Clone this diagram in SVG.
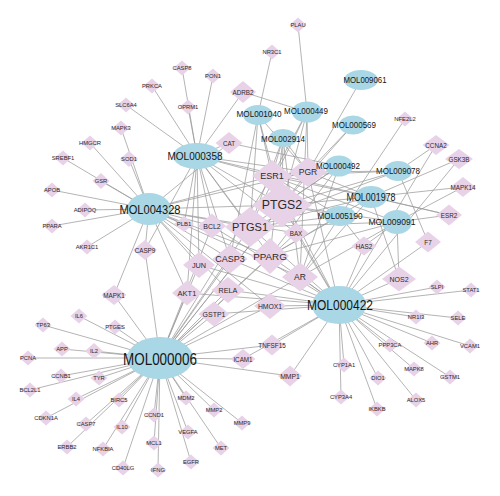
<svg xmlns="http://www.w3.org/2000/svg" xmlns:xlink="http://www.w3.org/1999/xlink" width="500" height="496" viewBox="0 0 500 496">
<style>
.t{fill:#E8D2E8}
.c{fill:#A9D7E5}
text{font-family:"Liberation Sans",Arial,sans-serif;text-anchor:middle;dominant-baseline:central;fill:#2a2a2a}
.s{font-size:5.8px}
.m{font-size:6.3px}
.k{fill:#151515}
</style>
<defs>
<polygon id="dl" class="t" points="0,-7.5 8.5,0 0,7.5 -8.5,0"/>
</defs>
<rect width="500" height="496" fill="#fff"/>
<g id="edges" stroke="#9b9b9b" stroke-width="0.75" fill="none">
<!-- MOL000358 -->
<line x1="197" y1="156" x2="182" y2="68"/>
<line x1="197" y1="156" x2="213" y2="76"/>
<line x1="197" y1="156" x2="188" y2="107"/>
<line x1="197" y1="156" x2="152" y2="86"/>
<line x1="197" y1="156" x2="126" y2="105"/>
<line x1="197" y1="156" x2="243" y2="92"/>
<line x1="197" y1="156" x2="229" y2="143"/>
<line x1="197" y1="156" x2="308" y2="172"/>
<line x1="197" y1="156" x2="272" y2="176"/>
<line x1="197" y1="156" x2="282" y2="205"/>
<line x1="197" y1="156" x2="250" y2="227"/>
<line x1="197" y1="156" x2="212" y2="226"/>
<line x1="197" y1="156" x2="296" y2="233"/>
<line x1="197" y1="156" x2="270" y2="256"/>
<line x1="197" y1="156" x2="230" y2="259"/>
<line x1="197" y1="156" x2="199" y2="265"/>
<line x1="197" y1="156" x2="187" y2="293"/>
<line x1="197" y1="156" x2="145" y2="250"/>
<line x1="197" y1="156" x2="449" y2="215"/>
<line x1="197" y1="156" x2="184" y2="224"/>
<!-- MOL004328 -->
<line x1="149" y1="209" x2="121" y2="128"/>
<line x1="149" y1="209" x2="129" y2="159"/>
<line x1="149" y1="209" x2="90" y2="143"/>
<line x1="149" y1="209" x2="63" y2="158"/>
<line x1="149" y1="209" x2="101" y2="181"/>
<line x1="149" y1="209" x2="52" y2="190"/>
<line x1="149" y1="209" x2="85" y2="210"/>
<line x1="149" y1="209" x2="52" y2="226"/>
<line x1="149" y1="209" x2="87" y2="247"/>
<line x1="149" y1="209" x2="145" y2="250"/>
<line x1="149" y1="209" x2="114" y2="295"/>
<line x1="149" y1="209" x2="184" y2="224"/>
<line x1="149" y1="209" x2="212" y2="226"/>
<line x1="149" y1="209" x2="229" y2="143"/>
<line x1="149" y1="209" x2="272" y2="176"/>
<line x1="149" y1="209" x2="282" y2="205"/>
<line x1="149" y1="209" x2="250" y2="227"/>
<line x1="149" y1="209" x2="308" y2="172"/>
<line x1="149" y1="209" x2="296" y2="233"/>
<line x1="149" y1="209" x2="270" y2="256"/>
<line x1="149" y1="209" x2="230" y2="259"/>
<line x1="149" y1="209" x2="199" y2="265"/>
<line x1="149" y1="209" x2="187" y2="293"/>
<line x1="149" y1="209" x2="228" y2="290"/>
<line x1="149" y1="209" x2="300" y2="277"/>
<line x1="149" y1="209" x2="270" y2="306"/>
<!-- MOL000006 -->
<line x1="160" y1="358" x2="79" y2="316"/>
<line x1="160" y1="358" x2="43" y2="325"/>
<line x1="160" y1="358" x2="115" y2="327"/>
<line x1="160" y1="358" x2="62" y2="349"/>
<line x1="160" y1="358" x2="94" y2="351"/>
<line x1="160" y1="358" x2="28" y2="358"/>
<line x1="160" y1="358" x2="61" y2="376"/>
<line x1="160" y1="358" x2="99" y2="378"/>
<line x1="160" y1="358" x2="30" y2="390"/>
<line x1="160" y1="358" x2="76" y2="399"/>
<line x1="160" y1="358" x2="119" y2="400"/>
<line x1="160" y1="358" x2="46" y2="418"/>
<line x1="160" y1="358" x2="86" y2="424"/>
<line x1="160" y1="358" x2="122" y2="427"/>
<line x1="160" y1="358" x2="154" y2="415"/>
<line x1="160" y1="358" x2="154" y2="443"/>
<line x1="160" y1="358" x2="67" y2="447"/>
<line x1="160" y1="358" x2="103" y2="449"/>
<line x1="160" y1="358" x2="123" y2="468"/>
<line x1="160" y1="358" x2="158" y2="470"/>
<line x1="160" y1="358" x2="186" y2="398"/>
<line x1="160" y1="358" x2="214" y2="410"/>
<line x1="160" y1="358" x2="242" y2="423"/>
<line x1="160" y1="358" x2="188" y2="432"/>
<line x1="160" y1="358" x2="221" y2="448"/>
<line x1="160" y1="358" x2="191" y2="462"/>
<line x1="160" y1="358" x2="145" y2="250"/>
<line x1="160" y1="358" x2="114" y2="295"/>
<line x1="160" y1="358" x2="243" y2="359"/>
<line x1="160" y1="358" x2="272" y2="345"/>
<line x1="160" y1="358" x2="290" y2="376"/>
<line x1="160" y1="358" x2="250" y2="227"/>
<line x1="160" y1="358" x2="282" y2="205"/>
<line x1="160" y1="358" x2="270" y2="256"/>
<line x1="160" y1="358" x2="300" y2="277"/>
<line x1="160" y1="358" x2="230" y2="259"/>
<line x1="160" y1="358" x2="199" y2="265"/>
<line x1="160" y1="358" x2="187" y2="293"/>
<line x1="160" y1="358" x2="228" y2="290"/>
<line x1="160" y1="358" x2="214" y2="314"/>
<line x1="160" y1="358" x2="270" y2="306"/>
<line x1="160" y1="358" x2="212" y2="226"/>
<line x1="160" y1="358" x2="296" y2="233"/>
<line x1="160" y1="358" x2="272" y2="176"/>
<line x1="160" y1="358" x2="308" y2="172"/>
<!-- MOL000422 -->
<line x1="339" y1="305" x2="437" y2="287"/>
<line x1="339" y1="305" x2="471" y2="290"/>
<line x1="339" y1="305" x2="416" y2="317"/>
<line x1="339" y1="305" x2="458" y2="318"/>
<line x1="339" y1="305" x2="390" y2="345"/>
<line x1="339" y1="305" x2="432" y2="343"/>
<line x1="339" y1="305" x2="470" y2="346"/>
<line x1="339" y1="305" x2="344" y2="365"/>
<line x1="339" y1="305" x2="378" y2="378"/>
<line x1="339" y1="305" x2="414" y2="369"/>
<line x1="339" y1="305" x2="450" y2="377"/>
<line x1="339" y1="305" x2="341" y2="397"/>
<line x1="339" y1="305" x2="416" y2="400"/>
<line x1="339" y1="305" x2="377" y2="409"/>
<line x1="339" y1="305" x2="399" y2="279"/>
<line x1="339" y1="305" x2="428" y2="242"/>
<line x1="339" y1="305" x2="364" y2="246"/>
<line x1="339" y1="305" x2="436" y2="145"/>
<line x1="339" y1="305" x2="459" y2="159"/>
<line x1="339" y1="305" x2="243" y2="359"/>
<line x1="339" y1="305" x2="272" y2="345"/>
<line x1="339" y1="305" x2="290" y2="376"/>
<line x1="339" y1="305" x2="250" y2="227"/>
<line x1="339" y1="305" x2="282" y2="205"/>
<line x1="339" y1="305" x2="308" y2="172"/>
<line x1="339" y1="305" x2="300" y2="277"/>
<line x1="339" y1="305" x2="270" y2="256"/>
<line x1="339" y1="305" x2="230" y2="259"/>
<line x1="339" y1="305" x2="187" y2="293"/>
<line x1="339" y1="305" x2="228" y2="290"/>
<line x1="339" y1="305" x2="214" y2="314"/>
<line x1="339" y1="305" x2="270" y2="306"/>
<line x1="339" y1="305" x2="296" y2="233"/>
<line x1="339" y1="305" x2="212" y2="226"/>
<line x1="339" y1="305" x2="199" y2="265"/>
<line x1="339" y1="305" x2="272" y2="176"/>
<!-- MOL000449 -->
<line x1="307" y1="112" x2="298" y2="25"/>
<line x1="307" y1="112" x2="243" y2="92"/>
<line x1="307" y1="112" x2="308" y2="172"/>
<line x1="307" y1="112" x2="250" y2="227"/>
<line x1="307" y1="112" x2="282" y2="205"/>
<line x1="307" y1="112" x2="272" y2="176"/>
<line x1="307" y1="112" x2="300" y2="277"/>
<!-- MOL001040 -->
<line x1="258" y1="115" x2="272" y2="52"/>
<line x1="258" y1="115" x2="250" y2="227"/>
<line x1="258" y1="115" x2="282" y2="205"/>
<line x1="258" y1="115" x2="272" y2="176"/>
<line x1="258" y1="115" x2="308" y2="172"/>
<line x1="258" y1="115" x2="230" y2="259"/>
<!-- MOL002914 -->
<line x1="283" y1="138" x2="250" y2="227"/>
<line x1="283" y1="138" x2="282" y2="205"/>
<line x1="283" y1="138" x2="272" y2="176"/>
<line x1="283" y1="138" x2="308" y2="172"/>
<line x1="283" y1="138" x2="270" y2="256"/>
<line x1="283" y1="138" x2="300" y2="277"/>
<!-- MOL000569, MOL009061 -->
<line x1="353" y1="125" x2="308" y2="172"/>
<line x1="353" y1="125" x2="282" y2="205"/>
<line x1="361" y1="80" x2="308" y2="172"/>
<!-- MOL000492 -->
<line x1="339" y1="166" x2="229" y2="143"/>
<line x1="339" y1="166" x2="282" y2="205"/>
<line x1="339" y1="166" x2="250" y2="227"/>
<line x1="339" y1="166" x2="272" y2="176"/>
<line x1="339" y1="166" x2="308" y2="172"/>
<line x1="339" y1="166" x2="300" y2="277"/>
<line x1="339" y1="166" x2="270" y2="256"/>
<!-- MOL009078 -->
<line x1="398" y1="171" x2="436" y2="145"/>
<line x1="398" y1="171" x2="428" y2="242"/>
<line x1="398" y1="171" x2="282" y2="205"/>
<line x1="398" y1="171" x2="250" y2="227"/>
<line x1="398" y1="171" x2="308" y2="172"/>
<line x1="398" y1="171" x2="272" y2="176"/>
<!-- MOL001978 -->
<line x1="371" y1="197" x2="463" y2="187"/>
<line x1="371" y1="197" x2="449" y2="215"/>
<line x1="371" y1="197" x2="459" y2="159"/>
<line x1="371" y1="197" x2="399" y2="279"/>
<line x1="371" y1="197" x2="282" y2="205"/>
<line x1="371" y1="197" x2="250" y2="227"/>
<line x1="371" y1="197" x2="272" y2="176"/>
<line x1="371" y1="197" x2="308" y2="172"/>
<line x1="371" y1="197" x2="300" y2="277"/>
<line x1="371" y1="197" x2="270" y2="256"/>
<!-- MOL005190 -->
<line x1="340" y1="216" x2="405" y2="119"/>
<line x1="340" y1="216" x2="364" y2="246"/>
<line x1="340" y1="216" x2="282" y2="205"/>
<line x1="340" y1="216" x2="250" y2="227"/>
<line x1="340" y1="216" x2="272" y2="176"/>
<line x1="340" y1="216" x2="270" y2="256"/>
<line x1="340" y1="216" x2="300" y2="277"/>
<!-- MOL009091 -->
<line x1="397" y1="222" x2="463" y2="187"/>
<line x1="397" y1="222" x2="449" y2="215"/>
<line x1="397" y1="222" x2="399" y2="279"/>
<line x1="397" y1="222" x2="364" y2="246"/>
<line x1="397" y1="222" x2="282" y2="205"/>
<line x1="397" y1="222" x2="250" y2="227"/>
<line x1="397" y1="222" x2="270" y2="256"/>
<line x1="397" y1="222" x2="300" y2="277"/>
<line x1="397" y1="222" x2="272" y2="176"/>
</g>
<g id="targets">
<g id="n-PRKCA"><use xlink:href="#dl" x="152" y="86"/><text class="s" x="152" y="86">PRKCA</text></g>
<g id="n-SLC6A4"><use xlink:href="#dl" x="126" y="105"/><text class="s" x="126" y="105">SLC6A4</text></g>
<g id="n-MAPK3"><use xlink:href="#dl" x="121" y="128"/><text class="s" x="121" y="128">MAPK3</text></g>
<g id="n-HMGCR"><use xlink:href="#dl" x="90" y="143"/><text class="s" x="90" y="143">HMGCR</text></g>
<g id="n-SREBF1"><use xlink:href="#dl" x="63" y="158"/><text class="s" x="63" y="158">SREBF1</text></g>
<g id="n-SOD1"><polygon class="t" points="129,151 138,159 129,167 120,159"/><text class="s" x="129" y="159">SOD1</text></g>
<g id="n-GSR"><polygon class="t" points="101,173 109.5,181 101,189 92.5,181"/><text class="s" x="101" y="181">GSR</text></g>
<g id="n-APOB"><use xlink:href="#dl" x="52" y="190"/><text class="s" x="52" y="190">APOB</text></g>
<g id="n-ADIPOQ"><use xlink:href="#dl" x="85" y="210"/><text class="s" x="85" y="210">ADIPOQ</text></g>
<g id="n-PPARA"><use xlink:href="#dl" x="52" y="226"/><text class="s" x="52" y="226">PPARA</text></g>
<g id="n-AKR1C1"><use xlink:href="#dl" x="87" y="247"/><text class="s" x="87" y="247">AKR1C1</text></g>
<g id="n-PLAU"><use xlink:href="#dl" x="298" y="25"/><text class="s" x="298" y="25">PLAU</text></g>
<g id="n-NR3C1"><use xlink:href="#dl" x="272" y="52"/><text class="s" x="272" y="52">NR3C1</text></g>
<g id="n-CASP8"><use xlink:href="#dl" x="182" y="68"/><text class="s" x="182" y="68">CASP8</text></g>
<g id="n-PON1"><use xlink:href="#dl" x="213" y="76"/><text class="s" x="213" y="76">PON1</text></g>
<g id="n-OPRM1"><use xlink:href="#dl" x="188" y="107"/><text class="s" x="188" y="107">OPRM1</text></g>
<g id="n-NFE2L2"><use xlink:href="#dl" x="405" y="119"/><text class="s" x="405" y="119">NFE2L2</text></g>
<g id="n-IL6"><use xlink:href="#dl" x="79" y="316"/><text class="s" x="79" y="316">IL6</text></g>
<g id="n-TP63"><use xlink:href="#dl" x="43" y="325"/><text class="s" x="43" y="325">TP63</text></g>
<g id="n-PTGES"><use xlink:href="#dl" x="115" y="327"/><text class="s" x="115" y="327">PTGES</text></g>
<g id="n-APP"><use xlink:href="#dl" x="62" y="349"/><text class="s" x="62" y="349">APP</text></g>
<g id="n-IL2"><polygon class="t" points="94,343 103,351 94,359 85,351"/><text class="s" x="94" y="351">IL2</text></g>
<g id="n-PCNA"><use xlink:href="#dl" x="28" y="358"/><text class="s" x="28" y="358">PCNA</text></g>
<g id="n-CCNB1"><use xlink:href="#dl" x="61" y="376"/><text class="s" x="61" y="376">CCNB1</text></g>
<g id="n-TYR"><use xlink:href="#dl" x="99" y="378"/><text class="s" x="99" y="378">TYR</text></g>
<g id="n-BCL2L1"><use xlink:href="#dl" x="30" y="390"/><text class="s" x="30" y="390">BCL2L1</text></g>
<g id="n-IL4"><use xlink:href="#dl" x="76" y="399"/><text class="s" x="76" y="399">IL4</text></g>
<g id="n-BIRC5"><use xlink:href="#dl" x="119" y="400"/><text class="s" x="119" y="400">BIRC5</text></g>
<g id="n-CDKN1A"><use xlink:href="#dl" x="46" y="418"/><text class="s" x="46" y="418">CDKN1A</text></g>
<g id="n-CASP7"><use xlink:href="#dl" x="86" y="424"/><text class="s" x="86" y="424">CASP7</text></g>
<g id="n-IL10"><use xlink:href="#dl" x="122" y="427"/><text class="s" x="122" y="427">IL10</text></g>
<g id="n-CCND1"><use xlink:href="#dl" x="154" y="415"/><text class="s" x="154" y="415">CCND1</text></g>
<g id="n-MCL1"><use xlink:href="#dl" x="154" y="443"/><text class="s" x="154" y="443">MCL1</text></g>
<g id="n-ERBB2"><use xlink:href="#dl" x="67" y="447"/><text class="s" x="67" y="447">ERBB2</text></g>
<g id="n-NFKBIA"><use xlink:href="#dl" x="103" y="449"/><text class="s" x="103" y="449">NFKBIA</text></g>
<g id="n-CD40LG"><use xlink:href="#dl" x="123" y="468"/><text class="s" x="123" y="468">CD40LG</text></g>
<g id="n-IFNG"><use xlink:href="#dl" x="158" y="470"/><text class="s" x="158" y="470">IFNG</text></g>
<g id="n-MDM2"><use xlink:href="#dl" x="186" y="398"/><text class="s" x="186" y="398">MDM2</text></g>
<g id="n-MMP2"><use xlink:href="#dl" x="214" y="410"/><text class="s" x="214" y="410">MMP2</text></g>
<g id="n-MMP9"><use xlink:href="#dl" x="242" y="423"/><text class="s" x="242" y="423">MMP9</text></g>
<g id="n-VEGFA"><use xlink:href="#dl" x="188" y="432"/><text class="s" x="188" y="432">VEGFA</text></g>
<g id="n-MET"><use xlink:href="#dl" x="221" y="448"/><text class="s" x="221" y="448">MET</text></g>
<g id="n-EGFR"><use xlink:href="#dl" x="191" y="462"/><text class="s" x="191" y="462">EGFR</text></g>
<g id="n-SLPI"><use xlink:href="#dl" x="437" y="287"/><text class="s" x="437" y="287">SLPI</text></g>
<g id="n-STAT1"><use xlink:href="#dl" x="471" y="290"/><text class="s" x="471" y="290">STAT1</text></g>
<g id="n-NR1I3"><use xlink:href="#dl" x="416" y="317"/><text class="s" x="416" y="317">NR1I3</text></g>
<g id="n-SELE"><use xlink:href="#dl" x="458" y="318"/><text class="s" x="458" y="318">SELE</text></g>
<g id="n-PPP3CA"><use xlink:href="#dl" x="390" y="345"/><text class="s" x="390" y="345">PPP3CA</text></g>
<g id="n-AHR"><use xlink:href="#dl" x="432" y="343"/><text class="s" x="432" y="343">AHR</text></g>
<g id="n-VCAM1"><use xlink:href="#dl" x="470" y="346"/><text class="s" x="470" y="346">VCAM1</text></g>
<g id="n-CYP1A1"><use xlink:href="#dl" x="344" y="365"/><text class="s" x="344" y="365">CYP1A1</text></g>
<g id="n-DIO1"><use xlink:href="#dl" x="378" y="378"/><text class="s" x="378" y="378">DIO1</text></g>
<g id="n-MAPK8"><use xlink:href="#dl" x="414" y="369"/><text class="s" x="414" y="369">MAPK8</text></g>
<g id="n-GSTM1"><use xlink:href="#dl" x="450" y="377"/><text class="s" x="450" y="377">GSTM1</text></g>
<g id="n-CYP3A4"><use xlink:href="#dl" x="341" y="397"/><text class="s" x="341" y="397">CYP3A4</text></g>
<g id="n-ALOX5"><use xlink:href="#dl" x="416" y="400"/><text class="s" x="416" y="400">ALOX5</text></g>
<g id="n-IKBKB"><use xlink:href="#dl" x="377" y="409"/><text class="s" x="377" y="409">IKBKB</text></g>
<g id="n-ADRB2"><polygon class="t" points="243,81 256,92 243,103 230,92"/><text class="m" x="243" y="92">ADRB2</text></g>
<g id="n-CAT"><polygon class="t" points="229,132 242.5,143 229,154 215.5,143"/><text class="m" x="229" y="143">CAT</text></g>
<g id="n-CASP9"><polygon class="t" points="145,240 157,250 145,260 133,250"/><text class="m" x="145" y="250">CASP9</text></g>
<g id="n-MAPK1"><polygon class="t" points="114,285 126.5,295 114,305 101.5,295"/><text class="m" x="114" y="295">MAPK1</text></g>
<g id="n-TNFSF15"><polygon class="t" points="272,334.5 284.5,345 272,355.5 259.5,345"/><text class="m" x="272" y="345">TNFSF15</text></g>
<g id="n-ICAM1"><polygon class="t" points="243,349 255.5,359 243,369 230.5,359"/><text class="m" x="243" y="359">ICAM1</text></g>
<g id="n-MMP1"><polygon class="t" points="290,365.5 302,376 290,386.5 278,376"/><text style="font-size:6.8px" x="290" y="376">MMP1</text></g>
<g id="n-NOS2"><polygon class="t" points="399,266.5 416,279 399,291.5 382,279"/><text style="font-size:7px" x="399" y="279">NOS2</text></g>
<g id="n-F7"><polygon class="t" points="428,231.5 441,242 428,252.5 415,242"/><text class="m" x="428" y="242">F7</text></g>
<g id="n-HAS2"><polygon class="t" points="364,236.5 376.5,246 364,255.5 351.5,246"/><text class="m" x="364" y="246">HAS2</text></g>
<g id="n-ESR2"><polygon class="t" points="449,204.5 462,215 449,225.5 436,215"/><text class="m" x="449" y="215">ESR2</text></g>
<g id="n-MAPK14"><polygon class="t" points="463,177 475.5,187 463,197 450.5,187"/><text class="m" x="463" y="187">MAPK14</text></g>
<g id="n-CCNA2"><polygon class="t" points="436,135 449.5,145 436,155 422.5,145"/><text class="m" x="436" y="145">CCNA2</text></g>
<g id="n-GSK3B"><polygon class="t" points="459,149 473,159 459,169 445,159"/><text class="m" x="459" y="159">GSK3B</text></g>
<g id="n-PLB1"><polygon class="t" points="184,216 194,224 184,232 174,224"/><text style="font-size:6px" x="184" y="224">PLB1</text></g>
<g id="n-BCL2"><polygon class="t" points="212,213.5 226,226 212,238.5 198,226"/><text style="font-size:7px" x="212" y="226">BCL2</text></g>
<g id="n-BAX"><polygon class="t" points="296,223 308.5,233 296,243 283.5,233"/><text style="font-size:6.3px" x="296" y="233">BAX</text></g>
<g id="n-JUN"><polygon class="t" points="199,252 215,265 199,278 183,265"/><text style="font-size:7.3px" x="199" y="265">JUN</text></g>
<g id="n-AKT1"><polygon class="t" points="187,280.5 202,293 187,305.5 172,293"/><text style="font-size:7.5px" x="187" y="293">AKT1</text></g>
<g id="n-RELA"><polygon class="t" points="228,277 244.5,290 228,303 211.5,290"/><text style="font-size:7.2px" x="228" y="290">RELA</text></g>
<g id="n-GSTP1"><polygon class="t" points="214,301.5 229.5,314 214,326.5 198.5,314"/><text style="font-size:7px" x="214" y="314">GSTP1</text></g>
<g id="n-HMOX1"><polygon class="t" points="270,293 286,306 270,319 254,306"/><text style="font-size:6.8px" x="270" y="306">HMOX1</text></g>
<g id="n-CASP3"><polygon class="t" points="230,244.5 247.5,259 230,273.5 212.5,259"/><text style="font-size:9px" x="230" y="259">CASP3</text></g>
<g id="n-AR"><polygon class="t" points="300,262.5 318,277 300,291.5 282,277"/><text style="font-size:8.5px" x="300" y="277">AR</text></g>
<g id="n-ESR1"><polygon class="t" points="272,160 292,176 272,192 252,176"/><text style="font-size:9px" x="272" y="176">ESR1</text></g>
<g id="n-PGR"><polygon class="t" points="308,157 327,172 308,187 289,172"/><text style="font-size:8.5px" x="308" y="172">PGR</text></g>
<g id="n-PTGS1"><polygon class="t" points="250,207 275,227 250,247 225,227"/><text style="font-size:11px" x="250" y="227">PTGS1</text></g>
<g id="n-PTGS2"><polygon class="t" points="282,183 312,205 282,227 252,205"/><text style="font-size:12.3px" x="282" y="205">PTGS2</text></g>
<g id="n-PPARG"><polygon class="t" points="270,238 289,256 270,274 251,256"/><text style="font-size:9.8px" x="270" y="256">PPARG</text></g>
</g>
<g id="compounds">
<g id="n-MOL000358"><ellipse class="c" cx="197" cy="156" rx="24" ry="13"/><text class="k" x="195" y="156" style="font-size:11.5px" textLength="55" lengthAdjust="spacingAndGlyphs">MOL000358</text></g>
<g id="n-MOL004328"><ellipse class="c" cx="149" cy="209" rx="22" ry="16"/><text class="k" x="150" y="209" style="font-size:13px" textLength="61" lengthAdjust="spacingAndGlyphs">MOL004328</text></g>
<g id="n-MOL000006"><ellipse class="c" cx="160" cy="358" rx="33" ry="21"/><text class="k" x="160" y="359" style="font-size:16px" textLength="74" lengthAdjust="spacingAndGlyphs">MOL000006</text></g>
<g id="n-MOL000422"><ellipse class="c" cx="339" cy="305" rx="27" ry="19"/><text class="k" x="340" y="305" style="font-size:14px" textLength="66" lengthAdjust="spacingAndGlyphs">MOL000422</text></g>
<g id="n-MOL009061"><ellipse class="c" cx="361" cy="80" rx="17" ry="10"/><text class="k" x="365" y="80" style="font-size:9.3px" textLength="43" lengthAdjust="spacingAndGlyphs">MOL009061</text></g>
<g id="n-MOL000449"><ellipse class="c" cx="307" cy="112" rx="15" ry="10.5"/><text class="k" x="306" y="111" style="font-size:9.3px" textLength="44" lengthAdjust="spacingAndGlyphs">MOL000449</text></g>
<g id="n-MOL001040"><ellipse class="c" cx="258" cy="115" rx="15" ry="10"/><text class="k" x="259" y="114" style="font-size:9.3px" textLength="45" lengthAdjust="spacingAndGlyphs">MOL001040</text></g>
<g id="n-MOL002914"><ellipse class="c" cx="283" cy="138" rx="14" ry="9"/><text class="k" x="283" y="139" style="font-size:9.3px" textLength="44" lengthAdjust="spacingAndGlyphs">MOL002914</text></g>
<g id="n-MOL000569"><ellipse class="c" cx="353" cy="125" rx="14" ry="9.5"/><text class="k" x="354" y="125" style="font-size:9.3px" textLength="44" lengthAdjust="spacingAndGlyphs">MOL000569</text></g>
<g id="n-MOL000492"><ellipse class="c" cx="339" cy="166" rx="14" ry="10.5"/><text class="k" x="338" y="166" style="font-size:9.3px" textLength="44" lengthAdjust="spacingAndGlyphs">MOL000492</text></g>
<g id="n-MOL009078"><ellipse class="c" cx="398" cy="171" rx="14" ry="10"/><text class="k" x="398" y="171" style="font-size:9.3px" textLength="44" lengthAdjust="spacingAndGlyphs">MOL009078</text></g>
<g id="n-MOL001978"><ellipse class="c" cx="371" cy="197" rx="16" ry="11"/><text class="k" x="371" y="197" style="font-size:10px" textLength="49" lengthAdjust="spacingAndGlyphs">MOL001978</text></g>
<g id="n-MOL005190"><ellipse class="c" cx="340" cy="216" rx="16" ry="10"/><text class="k" x="340" y="216" style="font-size:9.3px" textLength="45" lengthAdjust="spacingAndGlyphs">MOL005190</text></g>
<g id="n-MOL009091"><ellipse class="c" cx="397" cy="222" rx="15" ry="12"/><text class="k" x="392" y="221" style="font-size:9.5px" textLength="47" lengthAdjust="spacingAndGlyphs">MOL009091</text></g>
</g>
</svg>
